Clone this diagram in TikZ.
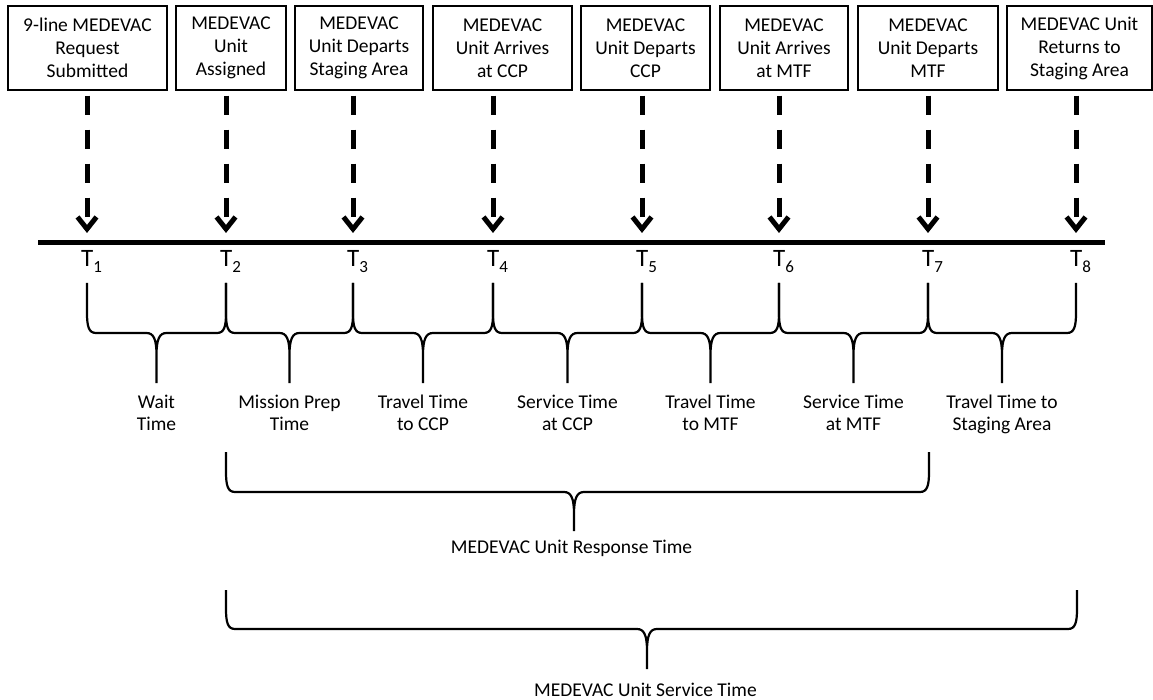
\documentclass[tikz,border=0pt]{standalone}
\usepackage{fontspec}
\setmainfont{Carlito}
\usetikzlibrary{arrows.meta}
\newcommand{\tsub}[1]{\raisebox{-6pt}{\fontsize{17}{17}\selectfont #1}}
\newcommand{\timebrace}[6]{%
  \draw[bracepath] (#1,#4) -- (#1,#5-20) .. controls (#1,#5-6) and (#1+2,#5) .. (#1+9,#5)
    -- (#2-10,#5) .. controls (#2-3,#5) and (#2,#5+6) .. (#2,#5+22) -- (#2,#6)
    (#3,#4) -- (#3,#5-20) .. controls (#3,#5-6) and (#3-2,#5) .. (#3-9,#5)
    -- (#2+10,#5) .. controls (#2+3,#5) and (#2,#5+6) .. (#2,#5+22);}

\begin{document}
\begin{tikzpicture}[x=1pt,y=-1pt,
  evbox/.style={draw=black,line width=1.3pt,minimum height=84pt,inner sep=0pt,align=center,font=\fontsize{19.5}{23}\selectfont},
  evarrow/.style={line width=5pt,dash pattern=on 19pt off 15pt,shorten <=5pt,-{Straight Barb[length=12pt,width=19pt]}},
  tlabel/.style={anchor=base west,inner sep=0pt,font=\fontsize{25}{25}\selectfont},
  span/.style={anchor=north,inner sep=0pt,align=center,font=\fontsize{19.5}{22}\selectfont},
  bracepath/.style={line width=2.2pt,line join=round}]
\useasboundingbox (0,0) rectangle (1153,700);
\node[evbox,minimum width=159pt] (e1) at (87.5,48) {9-line MEDEVAC\\Request\\Submitted};
\node[evbox,minimum width=110pt] (e2) at (231,48) {MEDEVAC\\Unit\\Assigned};
\node[evbox,minimum width=128pt] (e3) at (359,48) {MEDEVAC\\Unit Departs\\Staging Area};
\node[evbox,minimum width=139pt] (e4) at (502.5,48) {MEDEVAC\\Unit Arrives\\at CCP};
\node[evbox,minimum width=129pt] (e5) at (645.5,48) {MEDEVAC\\Unit Departs\\CCP};
\node[evbox,minimum width=128pt] (e6) at (784,48) {MEDEVAC\\Unit Arrives\\at MTF};
\node[evbox,minimum width=140pt] (e7) at (928,48) {MEDEVAC\\Unit Departs\\MTF};
\node[evbox,minimum width=145pt] (e8) at (1079.5,48) {MEDEVAC Unit\\Returns to\\Staging Area};
\coordinate (p1) at (87,233);
\coordinate (p2) at (226,233);
\coordinate (p3) at (353,233);
\coordinate (p4) at (493,233);
\coordinate (p5) at (642,233);
\coordinate (p6) at (779,233);
\coordinate (p7) at (928,233);
\coordinate (p8) at (1076,233);
\draw[evarrow] (e1.south -| p1) -- (p1);
\draw[evarrow] (e2.south -| p2) -- (p2);
\draw[evarrow] (e3.south -| p3) -- (p3);
\draw[evarrow] (e4.south -| p4) -- (p4);
\draw[evarrow] (e5.south -| p5) -- (p5);
\draw[evarrow] (e6.south -| p6) -- (p6);
\draw[evarrow] (e7.south -| p7) -- (p7);
\draw[evarrow] (e8.south -| p8) -- (p8);
\coordinate (tl) at (38,243);
\coordinate (tr) at (1105,243);
\draw[line width=5pt] (tl) -- (tr);
\node[tlabel] (T1) at (81,267) {T\tsub{1}};
\node[tlabel] (T2) at (220,267) {T\tsub{2}};
\node[tlabel] (T3) at (347,267) {T\tsub{3}};
\node[tlabel] (T4) at (487,267) {T\tsub{4}};
\node[tlabel] (T5) at (636,267) {T\tsub{5}};
\node[tlabel] (T6) at (773,267) {T\tsub{6}};
\node[tlabel] (T7) at (922,267) {T\tsub{7}};
\node[tlabel] (T8) at (1070,267) {T\tsub{8}};
\timebrace{87}{156.5}{226}{283}{333}{383}
\timebrace{226}{289.5}{353}{283}{333}{383}
\timebrace{353}{423}{493}{283}{333}{383}
\timebrace{493}{567.5}{642}{283}{333}{383}
\timebrace{642}{710.5}{779}{283}{333}{383}
\timebrace{779}{853.5}{928}{283}{333}{383}
\timebrace{928}{1002}{1076}{283}{333}{383}
\node[span] (s1) at (156.5,395) {Wait\\Time};
\node[span] (s2) at (289.5,395) {Mission Prep\\Time};
\node[span] (s3) at (423,395) {Travel Time\\to CCP};
\node[span] (s4) at (567.5,395) {Service Time\\at CCP};
\node[span] (s5) at (710.5,395) {Travel Time\\to MTF};
\node[span] (s6) at (853.5,395) {Service Time\\at MTF};
\node[span] (s7) at (1002,395) {Travel Time to\\Staging Area};
\timebrace{226}{574}{929}{452}{492}{531}
\node[font=\fontsize{19.5}{22}\selectfont,inner sep=0pt] (resp) at (571.5,548) {MEDEVAC Unit Response Time};
\timebrace{226}{647}{1077}{590}{629}{669}
\node[font=\fontsize{19.5}{22}\selectfont,inner sep=0pt] (serv) at (645.5,690) {MEDEVAC Unit Service Time};
\end{tikzpicture}
\end{document}
